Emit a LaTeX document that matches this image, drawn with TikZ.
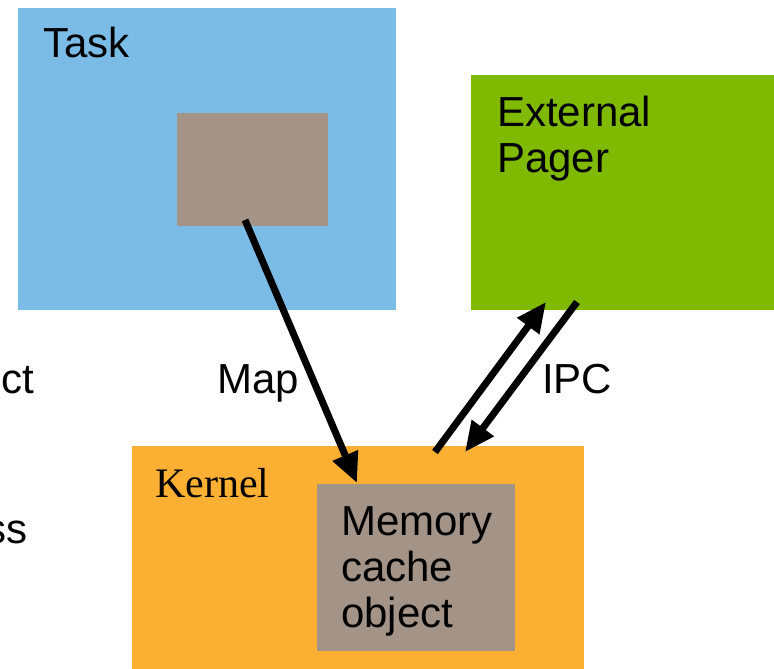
\documentclass[tikz,border=0pt]{standalone}
\usepackage{fontspec}
\setmainfont{Liberation Sans}
\newfontfamily\serifkernel{Liberation Serif}
\usetikzlibrary{arrows.meta}
\definecolor{taskblue}{RGB}{122,188,230}
\definecolor{regiongray}{RGB}{163,148,135}
\definecolor{pagergreen}{RGB}{127,186,0}
\definecolor{kernelorange}{RGB}{251,176,52}
\begin{document}
\begin{tikzpicture}[x=1pt,y=-1pt,
	lbl/.style={font=\fontsize{42}{46}\selectfont,inner sep=0pt,anchor=base west,align=left},
	bigarrow/.style={line width=7pt,-{Triangle[length=30pt,width=26pt]}}]
		\useasboundingbox (0,0) rectangle (774,669);
		\fill [white] (0,0) rectangle (774,669);
		
		\fill [taskblue] (18,8) rectangle (396,310);
		\fill [regiongray] (177,113) rectangle (328,226);
		\node [lbl] (task) at (43,58) {Task};
		
		\fill [pagergreen] (471,75) rectangle (774,310);
		\node [lbl] (pager) at (497,172) {External\\Pager};
		
		\fill [kernelorange] (132,446) rectangle (584,669);
		\node [lbl,font=\fontsize{42}{46}\serifkernel] (kernel) at (155,497) {Kernel};
		\fill [regiongray] (317,484) rectangle (515,651);
		\node [lbl] (memobj) at (341,627) {Memory\\cache\\object};
		
		\node [lbl,anchor=base east] (frag1) at (34,393) {ct};
		\node [lbl,anchor=base east] (frag2) at (28,543) {ss};
		
		\coordinate (mapfrom) at (245,220); \coordinate (mapto) at (357,483);
		\draw [bigarrow] (mapfrom) -- (mapto);
		\node [lbl] (map) at (217,393) {Map};
		
		\coordinate (upfrom) at (435,452); \coordinate (upto) at (546,302);
		\coordinate (downfrom) at (577,302); \coordinate (downto) at (465,452);
		\draw [bigarrow] (upfrom) -- (upto);
		\draw [bigarrow] (downfrom) -- (downto);
		\node [lbl] (ipc) at (542,393) {IPC};
\end{tikzpicture}
\end{document}
